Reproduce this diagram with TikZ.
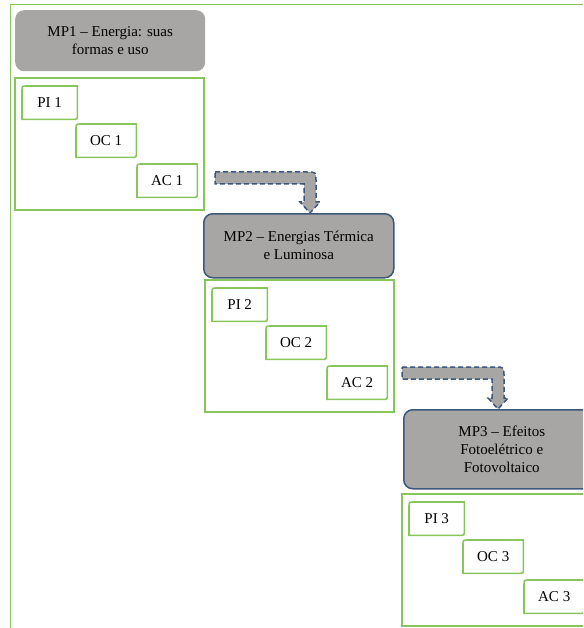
\documentclass[tikz,border=0pt]{standalone}
\usepackage{fontspec}
\setmainfont{Liberation Serif}
\usetikzlibrary{calc,positioning}
\definecolor{framegreen}{RGB}{136,198,92}
\definecolor{boxgray}{RGB}{168,165,165}
\definecolor{edgeblue}{RGB}{62,88,124}

\begin{document}
\begin{tikzpicture}
		[
			x=1pt, y=-1pt,
			font=\fontsize{15}{18}\selectfont,
			mp/.style={rectangle, rounded corners=9pt, fill=boxgray, align=center, anchor=north west, inner sep=0pt, minimum width=190pt},
			mpedge/.style={draw=edgeblue, line width=1.5pt},
			grp/.style={rectangle, draw=framegreen, line width=1.6pt, anchor=north west, minimum width=189pt, minimum height=132pt, inner sep=0pt},
			tag/.style={rectangle, anchor=north west, minimum height=33pt, inner sep=0pt},
			tagline/.style={draw=framegreen, line width=1.6pt},
			bentarrow/.style={fill=boxgray, draw=edgeblue, line width=1.5pt, dash pattern=on 5pt off 3pt}
		]
		\useasboundingbox (0,0) rectangle (583,628);
		\clip (0,0) rectangle (583,628);

		% outer frame
		\draw[framegreen, line width=1.6pt] (10.5,660) |- (620,4.5);

		% module headers
		\node[mp, minimum height=61pt] (mp1) at (15,10) {MP1 -- Energia: suas\\formas e uso};
		\node[mp, mpedge, minimum height=64pt] (mp2) at (203,213) {MP2 -- Energias Térmica\\e Luminosa};
		\node[mp, mpedge, minimum height=79pt, minimum width=196pt] (mp3) at (403,409) {MP3 -- Efeitos\\Fotoelétrico e\\Fotovoltaico};

		% groups with steps
		\foreach \i/\x/\y in {1/14/77, 2/204/279, 3/401/493} {
			\node[grp] (g\i) at (\x,\y) {};
			\node[tag, minimum width=55pt] (pi\i) at (\x+8,\y+9) {PI \i};
			\node[tag, minimum width=60pt] (oc\i) at (\x+62,\y+47) {OC \i};
			\node[tag, minimum width=60pt] (ac\i) at (\x+123,\y+87) {AC \i};
			\foreach \n in {pi\i, oc\i, ac\i}
				\draw[tagline] ($(\n.north west)+(5,0)$) -- (\n.north east) -- ($(\n.south east)+(0,-5)$) .. controls (\n.south east) .. ($(\n.south east)+(-5,0)$) -- (\n.south west) -- ($(\n.north west)+(0,5)$) .. controls (\n.north west) .. cycle;
		}

		% bent arrows
		\coordinate (s1) at (215,178);
		\coordinate (t1) at ([xshift=107pt]mp2.north west);
		\coordinate (s2) at (402,373);
		\coordinate (t2) at ([xshift=95pt]mp3.north west);
		\foreach \s/\t in {s1/t1, s2/t2}
			\draw[bentarrow] ($(\s)+(0,-6)$) -- ($(\s -| \t)+(-3,-6)$) .. controls ($(\s -| \t)+(6,-6)$) .. ($(\s -| \t)+(6,3)$) -- ($(\t)+(6,-11)$) -- ($(\t)+(10,-11)$) -- (\t) -- ($(\t)+(-10,-11)$) -- ($(\t)+(-6,-11)$) -- ($(\s -| \t)+(-6,6)$) -- ($(\s)+(0,6)$) -- cycle;
	\end{tikzpicture}
\end{document}
